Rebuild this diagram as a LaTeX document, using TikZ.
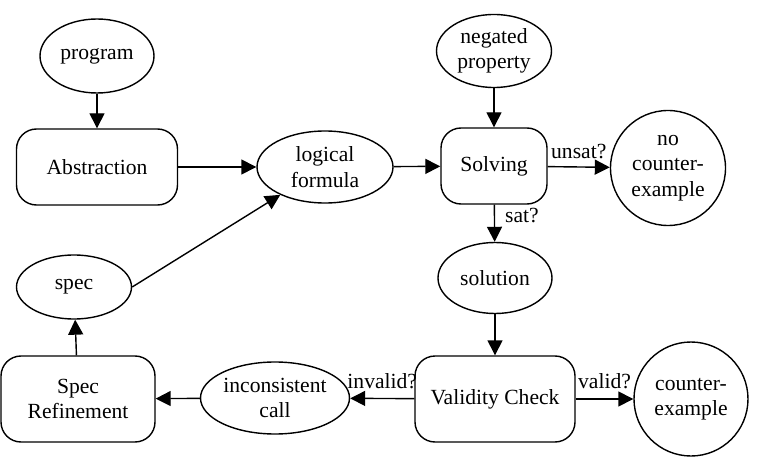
\documentclass[tikz,border=0pt]{standalone}
\usepackage{fontspec}
\setmainfont{Liberation Serif}
\usetikzlibrary{shapes.geometric,arrows.meta}
\begin{document}
\begin{tikzpicture}[x=1pt,y=-1pt,
  every node/.style={font=\fontsize{21.6}{25.5}\selectfont, align=center, inner sep=0pt},
  ell/.style={draw, ellipse, line width=1.4pt},
  circ/.style={draw, circle, line width=1.4pt},
  rbox/.style={draw, rectangle, rounded corners=20pt, line width=1.4pt},
  arr/.style={-{Triangle[length=15pt,width=15pt]}, line width=1.4pt},
  lab/.style={font=\fontsize{21.6}{25}\selectfont}
]
\useasboundingbox (0,0) rectangle (760,465);
\node[ell, minimum width=114pt, minimum height=74pt] (prog) at (97,56) {program};
\node[rbox, minimum width=161pt, minimum height=76pt] (abs) at (97,167) {Abstraction};
\node[ell, minimum width=136pt, minimum height=72pt] (lf) at (325,167) {logical\\formula};
\node[rbox, minimum width=106pt, minimum height=76pt] (solv) at (494,166) {Solving};
\node[ell, minimum width=115pt, minimum height=73pt] (neg) at (494,51) {negated\\property};
\node[circ, minimum size=115pt] (nocex) at (668,168) {no\\counter-\\example};
\node[ell, minimum width=114pt, minimum height=71pt] (sol) at (495,278) {solution};
\node[rbox, minimum width=160pt, minimum height=86pt] (vc) at (495,399) {Validity Check};
\node[circ, minimum size=114pt] (cex) at (691,399) {counter-\\example};
\node[ell, minimum width=149pt, minimum height=72pt] (inc) at (275,398) {inconsistent\\call};
\node[rbox, minimum width=154pt, minimum height=86pt] (sr) at (78,399) {Spec\\Refinement};
\node[ell, minimum width=115pt, minimum height=64pt] (spec) at (74,287) {spec};

\draw[arr] (prog) -- (abs);
\draw[arr] (abs) -- (lf);
\draw[arr] (lf) -- (solv);
\draw[arr] (neg) -- (solv);
\draw[arr] (solv) -- node[lab, above=7pt] {unsat?} (nocex);
\draw[arr] (solv) -- node[lab, right=10pt, pos=0.3] {sat?} (sol);
\draw[arr] (sol) -- (vc);
\draw[arr] (vc) -- node[lab, above=9pt] {valid?} (cex);
\draw[arr] (vc) -- node[lab, above=9pt] {invalid?} (inc);
\draw[arr] (inc) -- (sr);
\draw[arr] (sr) -- (spec);
\draw[arr] (spec.east) -- (lf);
\end{tikzpicture}
\end{document}
